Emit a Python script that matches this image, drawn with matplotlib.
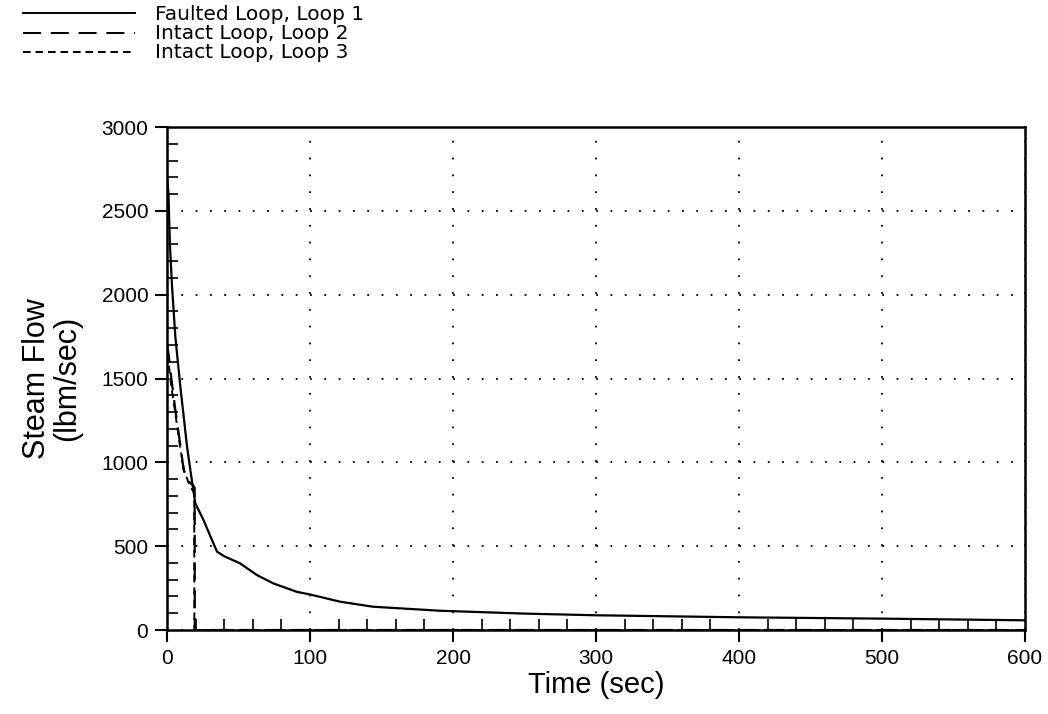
import numpy as np
import matplotlib
matplotlib.use("Agg")
import matplotlib.pyplot as plt
from matplotlib.lines import Line2D
from matplotlib.ticker import MultipleLocator

plt.rcParams['font.family'] = ['Liberation Sans', 'DejaVu Sans']
plt.rcParams['lines.scale_dashes'] = False

# Faulted loop (loop 1) steam flow
loop1_t = [0, 1, 2, 3.5, 5.8, 9.3, 14, 16.3, 19.8, 25.5, 31.4, 35, 40, 51,
           62.8, 74.4, 90.7, 100, 121, 144, 191, 250, 300, 350, 400, 450,
           500, 550, 600]
loop1_v = [2700, 2600, 2300, 2047, 1749, 1451, 1093, 954, 755, 656, 537, 467,
           440, 398, 328, 278, 228, 212, 169, 139, 115, 98, 88, 82, 76, 72,
           68, 63, 58]

# Intact loops 2 and 3
loop2_t = [0, 1, 3, 6, 9, 11.6, 14, 16.3, 18.5, 19.3, 19.4, 600]
loop2_v = [1700, 1650, 1500, 1300, 1120, 954, 900, 876, 860, 850, 0, 0]
loop3_t = [0, 1, 3, 6, 9, 12, 15, 17, 18.5, 19.0, 19.1, 600]
loop3_v = [1650, 1600, 1450, 1280, 1100, 950, 880, 845, 825, 815, 0, 0]

labels = ['Faulted Loop, Loop 1', 'Intact Loop, Loop 2', 'Intact Loop, Loop 3']
styles = ['-', (0, (13, 7)), (0, (5.5, 3.5))]

fig = plt.figure(figsize=(10.48, 7.14), dpi=100)
ax = fig.add_axes([0.1594, 0.1176, 0.8187, 0.7045])

ax.plot(loop1_t, loop1_v, color='black', lw=1.6, linestyle=styles[0], zorder=3)
ax.plot(loop2_t, loop2_v, color='black', lw=1.6, linestyle=styles[1], zorder=3)
ax.plot(loop3_t, loop3_v, color='black', lw=1.4, linestyle=styles[2], zorder=3)

ax.set_xlim(0, 600)
ax.set_ylim(0, 3000)

ax.xaxis.set_major_locator(MultipleLocator(100))
ax.xaxis.set_minor_locator(MultipleLocator(20))
ax.yaxis.set_major_locator(MultipleLocator(500))
ax.yaxis.set_minor_locator(MultipleLocator(100))

ax.tick_params(which='major', direction='out', length=8.5, width=1.5,
               labelsize=15, pad=5)
ax.tick_params(which='minor', direction='in', length=8, width=1.2)
ax.tick_params(top=False, right=False, which='both')

for s in ax.spines.values():
    s.set_linewidth(1.8)

# dotted grid at major ticks
ax.grid(True, which='major', axis='y', color='black', lw=1.3,
        linestyle=(0, (1.3, 9.0)))
ax.grid(True, which='major', axis='x', color='black', lw=1.3,
        linestyle=(0, (1.3, 10.8)))

ax.set_xlabel('Time (sec)', fontsize=21, labelpad=2)
ax.set_ylabel('Steam Flow\n(lbm/sec)', fontsize=22, labelpad=14, linespacing=1.0)

# legend block in the top left corner
ys = [0.9818, 0.9538, 0.9272]
for y, ls in zip(ys, styles):
    fig.add_artist(Line2D([0.022, 0.129], [y, y], color='black', lw=1.4,
                          linestyle=ls, transform=fig.transFigure))
fig.text(0.148, 0.993, '\n'.join(labels), fontsize=14.5, va='top', ha='left',
         linespacing=1.0, family=['DejaVu Sans'])

fig.savefig('out.png', dpi=100)
